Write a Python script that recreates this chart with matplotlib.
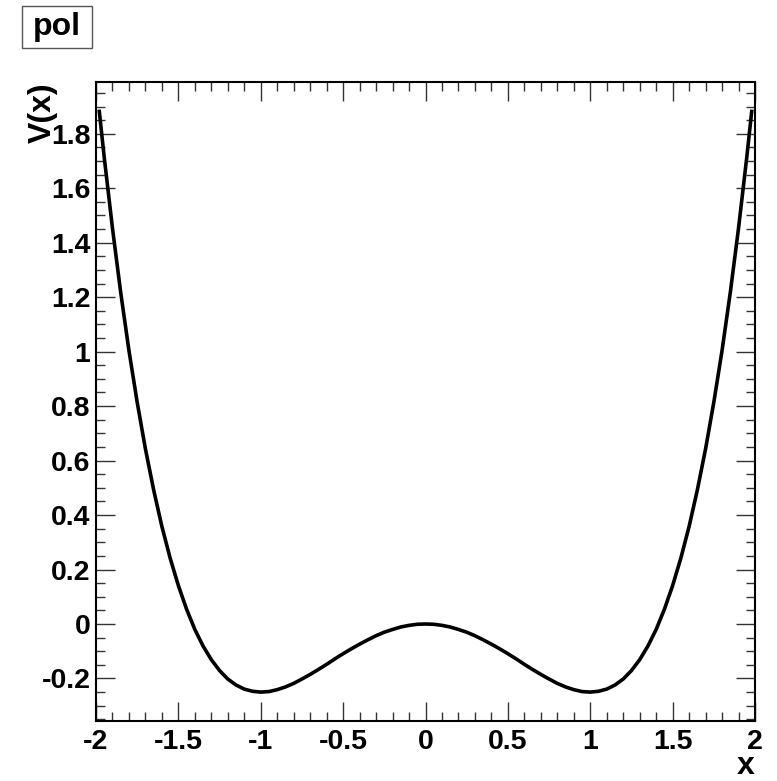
import numpy as np
import matplotlib.pyplot as plt
from matplotlib.ticker import MultipleLocator
from matplotlib.patches import Rectangle

# values (right half, curve is symmetric about x=0)
x_half = [0.0, 0.05, 0.10, 0.15, 0.20, 0.25, 0.30, 0.35, 0.40, 0.45, 0.50,
          0.55, 0.60, 0.65, 0.70, 0.75, 0.80, 0.85, 0.90, 0.95, 1.00,
          1.05, 1.10, 1.15, 1.20, 1.25, 1.30, 1.35, 1.40, 1.45, 1.50,
          1.55, 1.60, 1.65, 1.70, 1.75, 1.80, 1.85, 1.90, 1.95, 1.98]
v_half = [0.0, -0.001, -0.005, -0.011, -0.020, -0.030, -0.043, -0.058, -0.074, -0.091, -0.109,
          -0.128, -0.148, -0.167, -0.185, -0.202, -0.218, -0.231, -0.241, -0.248, -0.250,
          -0.247, -0.239, -0.224, -0.202, -0.171, -0.131, -0.081, -0.020, 0.054, 0.141,
          0.242, 0.358, 0.492, 0.643, 0.814, 1.004, 1.217, 1.453, 1.713, 1.882]

x_half = np.array(x_half)
v_half = np.array(v_half)
x = np.concatenate((-x_half[::-1], x_half[1:]))
v = np.concatenate((v_half[::-1], v_half[1:]))

plt.rcParams['font.family'] = ['Liberation Sans', 'DejaVu Sans']
plt.rcParams['font.weight'] = 'bold'

fig = plt.figure(figsize=(7.77, 7.81), dpi=100)
ax = fig.add_axes([96/777, 1-720.7/781, (755-96)/777, (720.7-82)/781])

ax.plot(x, v, color='black', lw=2.6)

ax.set_xlim(-2, 2)
ax.set_ylim(-0.355, 1.99)

ax.xaxis.set_major_locator(MultipleLocator(0.5))
ax.xaxis.set_minor_locator(MultipleLocator(0.1))
ax.yaxis.set_major_locator(MultipleLocator(0.2))
ax.yaxis.set_minor_locator(MultipleLocator(0.05))

def fmt(val, pos):
    s = ('%.1f' % val).rstrip('0').rstrip('.')
    if s == '-0':
        s = '0'
    return s

ax.xaxis.set_major_formatter(plt.FuncFormatter(fmt))
ax.yaxis.set_major_formatter(plt.FuncFormatter(fmt))

ax.tick_params(which='both', direction='in', top=True, right=True, width=1.0, color='#333333')
ax.tick_params(which='major', length=13.5)
ax.tick_params(which='minor', length=6.5)
ax.tick_params(axis='x', which='major', labelsize=20.5, pad=6)
ax.tick_params(axis='y', which='major', labelsize=20.5, pad=4)
for lab in ax.get_xticklabels() + ax.get_yticklabels():
    lab.set_fontweight('bold')
for s in ax.spines.values():
    s.set_linewidth(1.5)

fig.text(43/777, 1-82/781, 'V(x)', rotation=90, ha='center', va='top', fontsize=23, fontweight='bold')
fig.text(755/777, 1-781/781, 'x', ha='right', va='bottom', fontsize=23, fontweight='bold')

# title box
fig.patches.append(Rectangle((22/777, 1-47.5/781), 70/777, 42/781, transform=fig.transFigure,
                             facecolor='white', edgecolor='#555555', lw=1.0))
fig.text(57/777, 1-27/781, 'pol', ha='center', va='center', fontsize=23, fontweight='bold')

fig.savefig('out.png', dpi=100)
